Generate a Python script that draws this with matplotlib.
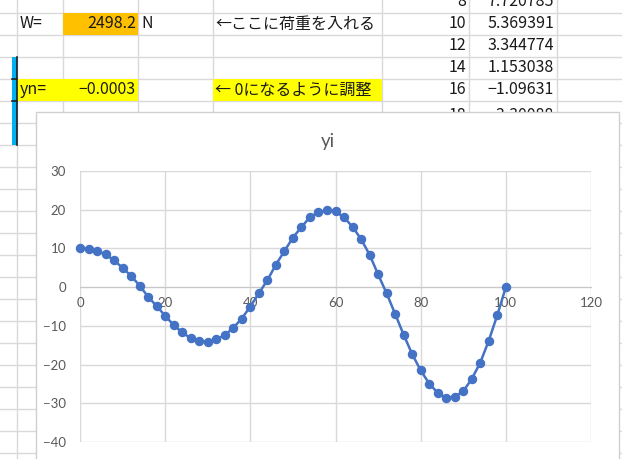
import matplotlib
matplotlib.use("Agg")
import matplotlib.pyplot as plt
from matplotlib.patches import Rectangle

# deflection data yi along the beam
x_pos = [0, 2, 4, 6, 8, 10, 12, 14, 16, 18, 20, 22, 24, 26, 28, 30, 32, 34, 36, 38,
         40, 42, 44, 46, 48, 50, 52, 54, 56, 58, 60, 62, 64, 66, 68, 70, 72, 74, 76, 78,
         80, 82, 84, 86, 88, 90, 92, 94, 96, 98, 100]
yi = [10.0, 9.9, 9.3, 8.5, 6.9, 5.0, 2.9, 0.4, -2.5, -4.9, -7.4, -9.8, -11.7, -13.2, -13.9,
      -14.1, -13.5, -12.4, -10.5, -8.1, -5.0, -1.6, 1.8, 5.8, 9.3, 12.8, 15.5, 18.1, 19.3,
      19.9, 19.6, 18.0, 15.6, 12.4, 8.4, 3.3, -1.6, -6.9, -12.3, -17.3, -21.5, -24.9, -27.3,
      -28.6, -28.3, -26.9, -23.7, -19.5, -13.8, -7.2, 0.0]
x_ticks = [0, 20, 40, 60, 80, 100, 120]
y_ticks = [-40, -30, -20, -10, 0, 10, 20, 30]

# worksheet cells visible behind the chart
load_label = "W="
load_value = "2498.2"
load_unit = "N"
load_note = "←ここに荷重を入れる"
yn_label = "yn="
yn_value = "−0.0003"
yn_note = "← 0になるように調整"
table_i = ["8", "10", "12", "14", "16", "18"]
table_v = ["7.720785", "5.369391", "3.344774", "1.153038", "−1.09631", "−3.30088"]

W, H = 622, 459
fig = plt.figure(figsize=(W / 100, H / 100), dpi=100)
jp = ["Noto Sans CJK JP", "DejaVu Sans"]

# sheet layer in pixel coordinates
bg = fig.add_axes([0, 0, 1, 1])
bg.set_xlim(0, W)
bg.set_ylim(H, 0)
bg.axis("off")

grid_c = "#D9D9D9"
row_lines = list(range(13, H + 22, 22))
col_lines = [17, 63, 138, 213, 382, 469, 557]
for y in row_lines:
    bg.plot([0, W], [y, y], color=grid_c, lw=1, zorder=1)
for x in col_lines:
    bg.plot([x, x], [0, H], color=grid_c, lw=1, zorder=1)

# filled cells
bg.add_patch(Rectangle((63, 13), 75, 22, facecolor="#FFC000", edgecolor="none", zorder=2))
bg.add_patch(Rectangle((17, 79), 121, 22, facecolor="#FFFF00", edgecolor="none", zorder=2))
bg.add_patch(Rectangle((213, 79), 169, 22, facecolor="#FFFF00", edgecolor="none", zorder=2))

# selection marker on the left edge
bg.add_patch(Rectangle((12, 57), 5, 88, facecolor="#00B0F0", edgecolor="none", zorder=3))
bg.plot([17, 17], [57, 145], color="#202020", lw=1.2, zorder=4)
for y in (79, 101):
    bg.plot([12, 17], [y, y], color="#202020", lw=1.2, zorder=4)

tc = "#1A1A1A"
fs = 11.5
bg.text(20, 24, load_label, ha="left", va="center", fontsize=fs, color=tc, family=jp, zorder=5)
bg.text(136, 24, load_value, ha="right", va="center", fontsize=fs, color=tc, family=jp, zorder=5)
bg.text(141, 24, load_unit, ha="left", va="center", fontsize=fs, color=tc, family=jp, zorder=5)
bg.text(215, 24, load_note, ha="left", va="center", fontsize=fs, color=tc, family=jp, zorder=5)
bg.text(20, 90, yn_label, ha="left", va="center", fontsize=fs, color=tc, family=jp, zorder=5)
bg.text(136, 90, yn_value, ha="right", va="center", fontsize=fs, color=tc, family=jp, zorder=5)
bg.text(215, 90, yn_note, ha="left", va="center", fontsize=fs, color=tc, family=jp, zorder=5)
for k, (ti, tv) in enumerate(zip(table_i, table_v)):
    yc = 2 + 22 * k
    if k == len(table_i) - 1:
        yc += 3
    bg.text(466, yc, ti, ha="right", va="center", fontsize=fs, color=tc, family=jp, zorder=5)
    bg.text(554, yc, tv, ha="right", va="center", fontsize=fs, color=tc, family=jp, zorder=5)

# chart box
bg.add_patch(Rectangle((36, 112), 583, 360, facecolor="white", edgecolor="#D0D0D0",
                       lw=1, zorder=10))
bg.text(328, 141, "yi", ha="center", va="center", fontsize=13.5, color="#595959",
        family=["Lato", "DejaVu Sans"], zorder=11)

# plot area
ax = fig.add_axes([80 / W, 1 - 442 / H, 511 / W, 271 / H])
ax.set_zorder(2)
ax.patch.set_alpha(0)
ax.set_xlim(0, 120)
ax.set_ylim(-40, 30)
ax.set_xticks(x_ticks)
ax.set_yticks(y_ticks)
ax.grid(True, color=grid_c, lw=1)
ax.set_axisbelow(True)
for s in ("top", "right", "left"):
    ax.spines[s].set_visible(False)
ax.spines["bottom"].set_position(("data", 0))
ax.spines["bottom"].set_color("#C8C8C8")
ax.tick_params(axis="both", length=0, labelsize=9.5, labelcolor="#595959")
ax.tick_params(axis="x", pad=7)
ax.tick_params(axis="y", pad=10)
for lab in ax.get_xticklabels() + ax.get_yticklabels():
    lab.set_family(["Lato", "DejaVu Sans"])

ax.plot(x_pos, yi, color="#4472C4", lw=1.8, marker="o", markersize=5.8,
        markerfacecolor="#4472C4", markeredgecolor="#4472C4", zorder=3, clip_on=False)

fig.savefig("out.png", dpi=100)
